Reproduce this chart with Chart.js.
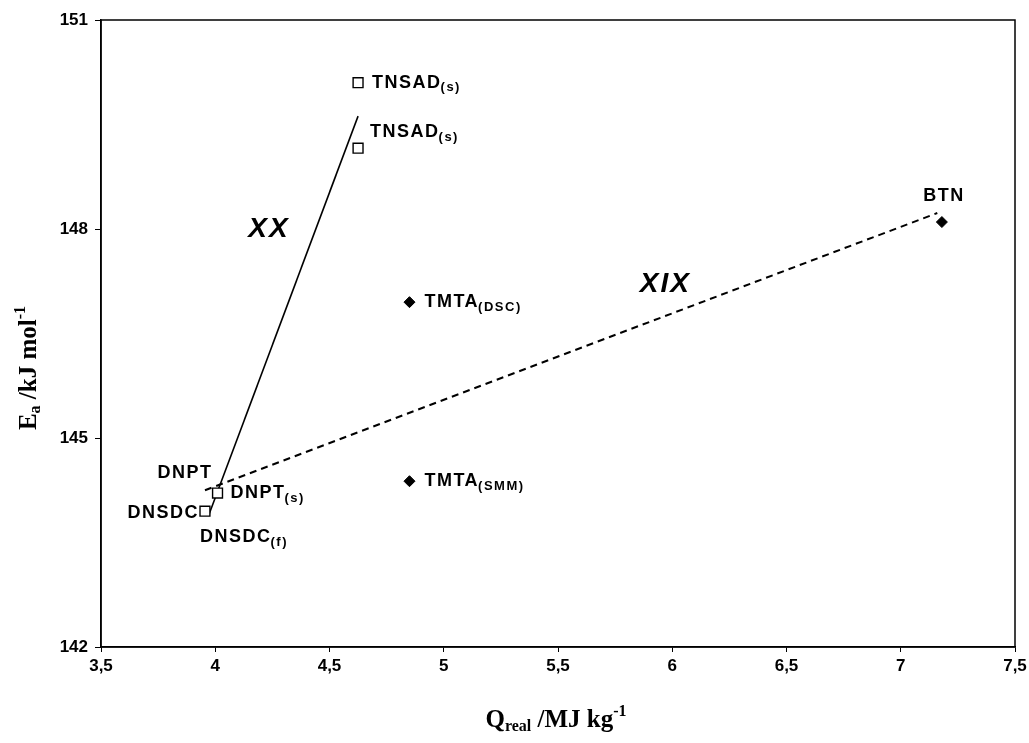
<!DOCTYPE html>
<html>
<head>
<meta charset="utf-8">
<script src="https://cdn.jsdelivr.net/npm/chart.js@4"></script>
<style>
  body { margin: 0; background: #fff; }
  #wrap { width: 1029px; height: 743px; }
</style>
</head>
<body>
<div id="wrap"><canvas id="chart" width="1029" height="743"></canvas></div>
<script>
// open squares
const squareX = [4.625, 4.625, 4.01, 3.955];
const squareY = [150.10, 149.16, 144.21, 143.95];
// filled diamonds
const diamondX = [4.85, 4.85, 7.18];
const diamondY = [146.95, 144.38, 148.10];
// correlation lines
const lineXXx = [3.97, 4.625];
const lineXXy = [143.88, 149.62];
const lineXIXx = [3.955, 7.16];
const lineXIXy = [144.25, 148.23];

// point labels: name, subscript, and the point they belong to (x, y)
const labelNames = ['TNSAD', 'TNSAD', 'DNPT', 'DNPT', 'DNSDC', 'DNSDC', 'TMTA', 'TMTA', 'BTN'];
const labelSubs = ['(s)', '(s)', '', '(s)', '', '(f)', '(DSC)', '(SMM)', ''];
const labelX = [4.625, 4.625, 4.01, 4.01, 3.955, 3.955, 4.85, 4.85, 7.18];
const labelY = [150.10, 149.16, 144.21, 144.21, 143.95, 143.95, 146.95, 144.38, 148.10];

// line names
const lineNames = ['XX', 'XIX'];
const lineNameX = [4.235, 5.97];
const lineNameY = [147.99, 147.2];

const xTicks = [3.5, 4, 4.5, 5, 5.5, 6, 6.5, 7, 7.5];
const yTicks = [142, 145, 148, 151];

// label placement in pixels (dx, dy, align) - same order as labelNames
const labelPos = [
  [14, 0, 'left'], [12, -16, 'left'], [-5, -20, 'right'], [13, 0, 'left'],
  [-6, 2, 'right'], [-5, 26, 'left'], [15, 0, 'left'], [15, 0, 'left'], [2, -26, 'center']
];

const toPts = (xs, ys) => xs.map((x, i) => ({ x: x, y: ys[i] }));

const SANS = 'Arial, "Liberation Sans", sans-serif';
const SERIF = '"Liberation Serif", "Times New Roman", serif';

function drawLabel(ctx, x, y, main, sub, align) {
  ctx.save();
  ctx.fillStyle = '#000';
  ctx.textBaseline = 'middle';
  ctx.textAlign = 'left';
  ctx.letterSpacing = '1.5px';
  ctx.font = 'bold 18px ' + SANS;
  const wMain = ctx.measureText(main).width;
  ctx.font = 'bold 13px ' + SANS;
  const wSub = sub ? ctx.measureText(sub).width : 0;
  const total = wMain + wSub;
  let sx = x;
  if (align === 'right') sx = x - total;
  if (align === 'center') sx = x - total / 2;
  ctx.font = 'bold 18px ' + SANS;
  ctx.fillText(main, sx, y);
  if (sub) {
    ctx.font = 'bold 13px ' + SANS;
    ctx.fillText(sub, sx + wMain - 1, y + 5);
  }
  ctx.restore();
}

function drawParts(ctx, parts, x, y) {
  let w = 0;
  parts.forEach(p => { ctx.font = p[1]; w += ctx.measureText(p[0]).width; });
  let cx = x - w / 2;
  parts.forEach(p => {
    ctx.font = p[1];
    ctx.fillText(p[0], cx, y + p[2]);
    cx += ctx.measureText(p[0]).width;
  });
}

const overlay = {
  id: 'overlay',
  afterDatasetsDraw(chart) {
    const ctx = chart.ctx;
    const xs = chart.scales.x;
    const ys = chart.scales.y;
    const a = chart.chartArea;

    // frame
    ctx.save();
    ctx.strokeStyle = '#000';
    ctx.lineWidth = 1.5;
    ctx.strokeRect(a.left, a.top, a.right - a.left, a.bottom - a.top);
    ctx.restore();

    // point labels
    labelNames.forEach((name, i) => {
      const p = labelPos[i];
      drawLabel(ctx, xs.getPixelForValue(labelX[i]) + p[0], ys.getPixelForValue(labelY[i]) + p[1], name, labelSubs[i], p[2]);
    });

    // line names
    ctx.save();
    ctx.fillStyle = '#000';
    ctx.textAlign = 'center';
    ctx.textBaseline = 'middle';
    ctx.letterSpacing = '2px';
    ctx.font = 'italic bold 28px ' + SANS;
    lineNames.forEach((n, i) => {
      ctx.fillText(n, xs.getPixelForValue(lineNameX[i]), ys.getPixelForValue(lineNameY[i]));
    });
    ctx.restore();

    // axis titles
    ctx.save();
    ctx.fillStyle = '#000';
    ctx.textBaseline = 'alphabetic';
    ctx.textAlign = 'left';
    const big = 'bold 25px ' + SERIF;
    const sub = 'bold 16px ' + SERIF;
    const sup = 'bold 16px ' + SERIF;

    // x title: Q_real /MJ kg^-1
    drawParts(ctx, [['Q', big, 0], ['real', sub, 4], [' /MJ kg', big, 0], ['-1', sup, -11]], 556, 727);

    // y title: E_a /kJ mol^-1
    ctx.translate(36, 368);
    ctx.rotate(-Math.PI / 2);
    drawParts(ctx, [['E', big, 0], ['a', sub, 4], [' /kJ mol', big, 0], ['-1', sup, -11]], 0, 0);
    ctx.restore();
  }
};

new Chart(document.getElementById('chart'), {
  type: 'scatter',
  data: {
    datasets: [
      {
        data: toPts(squareX, squareY),
        pointStyle: 'rect',
        pointRadius: 7,
        backgroundColor: '#fff',
        borderColor: '#000',
        borderWidth: 1.4
      },
      {
        data: toPts(diamondX, diamondY),
        pointStyle: 'rectRot',
        pointRadius: 5.5,
        backgroundColor: '#000',
        borderColor: '#000',
        borderWidth: 1
      },
      {
        data: toPts(lineXXx, lineXXy),
        showLine: true,
        pointRadius: 0,
        borderColor: '#000',
        borderWidth: 1.6
      },
      {
        data: toPts(lineXIXx, lineXIXy),
        showLine: true,
        pointRadius: 0,
        borderColor: '#000',
        borderWidth: 2,
        borderDash: [7, 5]
      }
    ]
  },
  options: {
    responsive: false,
    animation: false,
    layout: { padding: { left: 0, right: 14, top: 20, bottom: 0 } },
    plugins: { legend: { display: false }, tooltip: { enabled: false } },
    scales: {
      x: {
        type: 'linear',
        min: 3.5,
        max: 7.5,
        afterBuildTicks: s => { s.ticks = xTicks.map(v => ({ value: v })); },
        afterFit: s => { s.height = 96; s.paddingLeft = 0; s.paddingRight = 0; },
        grid: { display: true, drawOnChartArea: false, drawTicks: true, tickLength: 5, color: '#000' },
        border: { display: true, color: '#000', width: 1.5 },
        ticks: {
          color: '#000',
          padding: 4,
          maxRotation: 0,
          font: { family: SANS, size: 17, weight: 'bold' },
          callback: v => String(v).replace('.', ',')
        }
      },
      y: {
        type: 'linear',
        min: 142,
        max: 151,
        afterBuildTicks: s => { s.ticks = yTicks.map(v => ({ value: v })); },
        afterFit: s => { s.width = 101; s.paddingTop = 0; s.paddingBottom = 0; },
        grid: { display: true, drawOnChartArea: false, drawTicks: true, tickLength: 6, color: '#000' },
        border: { display: true, color: '#000', width: 1.5 },
        ticks: {
          color: '#000',
          padding: 7,
          font: { family: SANS, size: 17, weight: 'bold' }
        }
      }
    }
  },
  plugins: [overlay]
});
</script>
</body>
</html>
